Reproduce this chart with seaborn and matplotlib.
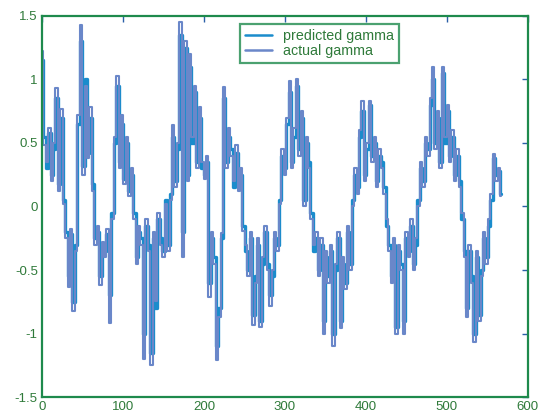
# plot.py
# predicted vs actual gamma, MATLAB-looking figure redone with seaborn

import numpy as np
import pandas as pd
import matplotlib
matplotlib.use("Agg")
import matplotlib.pyplot as plt
import seaborn as sns

# one value every 3 samples
sample_step = 3

actual_gamma = [
    1.22, 0.48, 0.35, 0.62, 0.2, 0.5, 0.93, 0.12, 0.77, 0.02,
    -0.25, -0.63, -0.18, -0.82, -0.35, 0.72, 1.43, 0.25, 0.95, 0.38,
    0.78, 0.12, -0.3, -0.15, -0.62, -0.28, -0.4, -0.18, -0.92, -0.1,
    0.55, 1.03, 0.3, 0.72, 0.18, 0.55, 0.08, 0.3, -0.1, -0.45,
    -0.15, -0.3, -1.2, -0.1, -0.35, -1.25, -0.2, -0.74, -0.05, -0.3,
    -0.4, 0.02, -0.35, 0.05, 0.64, 0.15, 0.5, 1.45, -0.4, 1.3,
    0.2, 1.2, 0.55, 0.95, 0.3, 0.78, 0.35, 0.22, 0.4, -0.71,
    -0.2, -0.45, -1.21, -0.87, -0.21, 0.94, 0.3, 0.62, 0.4, 0.2,
    0.48, 0.12, 0.3, -0.19, -0.3, -0.55, -0.2, -0.93, -0.6, -0.25,
    -0.95, -0.4, -0.15, -0.5, -0.78, -0.5, -0.2, -0.35, 0.02, 0.45,
    0.25, 0.7, 0.99, 0.3, 0.62, 1.0, 0.4, 0.75, 0.0, 0.55,
    0.3, -0.1, -0.3, -0.2, -0.55, -0.25, -1.0, -0.35, -0.6, -0.3,
    -1.1, -0.45, -0.2, -0.96, -0.4, -0.65, -0.15, -0.5, 0.0, 0.3,
    0.1, 0.6, 0.83, 0.2, 0.5, 0.83, 0.35, 0.55, 0.15, 0.45,
    0.3, 0.1, -0.1, -0.35, -0.6, -0.25, -1.0, -0.3, -0.5, -1.0,
    -0.2, -0.4, -0.1, -0.5, -0.25, 0.0, 0.35, 0.15, 0.55, 0.4,
    0.85, 1.1, 0.45, 0.75, 0.3, 1.1, 0.55, 0.8, 0.35, 0.6,
    0.2, 0.45, 0.15, -0.05, -0.4, -0.87, -0.3, -0.6, -1.07, -0.35,
    -0.9, -0.55, -0.2, -0.45, -0.1, 0.1, 0.41, 0.2, 0.3, 0.08,
]

predicted_gamma = [
    1.15, 0.55, 0.3, 0.58, 0.25, 0.45, 0.85, 0.18, 0.7, 0.05,
    -0.2, -0.55, -0.22, -0.75, -0.3, 0.65, 1.3, 0.32, 1.0, 0.42,
    0.7, 0.18, -0.25, -0.2, -0.55, -0.32, -0.35, -0.22, -0.7, -0.05,
    0.5, 0.95, 0.35, 0.65, 0.22, 0.5, 0.12, 0.25, -0.05, -0.4,
    -0.2, -0.25, -1.0, -0.15, -0.3, -1.15, -0.25, -0.8, -0.1, -0.25,
    -0.35, 0.05, -0.3, 0.1, 0.55, 0.2, 0.45, 1.35, -0.2, 1.25,
    0.25, 1.1, 0.5, 0.9, 0.35, 0.7, 0.3, 0.25, 0.35, -0.6,
    -0.25, -0.4, -1.1, -0.8, -0.25, 0.85, 0.35, 0.55, 0.45, 0.15,
    0.42, 0.18, 0.25, -0.15, -0.35, -0.5, -0.25, -0.85, -0.55, -0.3,
    -0.9, -0.45, -0.2, -0.45, -0.7, -0.55, -0.25, -0.3, 0.05, 0.4,
    0.3, 0.65, 0.9, 0.35, 0.55, 0.95, 0.45, 0.7, 0.05, 0.5,
    0.35, -0.05, -0.35, -0.25, -0.5, -0.3, -0.9, -0.4, -0.55, -0.35,
    -1.0, -0.5, -0.25, -0.9, -0.45, -0.6, -0.2, -0.45, 0.05, 0.25,
    0.15, 0.55, 0.75, 0.25, 0.45, 0.8, 0.4, 0.5, 0.2, 0.4,
    0.35, 0.15, -0.15, -0.3, -0.55, -0.3, -0.95, -0.35, -0.45, -0.9,
    -0.25, -0.35, -0.15, -0.45, -0.3, 0.05, 0.3, 0.2, 0.5, 0.45,
    0.8, 1.0, 0.5, 0.7, 0.35, 1.05, 0.5, 0.75, 0.4, 0.55,
    0.25, 0.4, 0.2, -0.1, -0.35, -0.8, -0.35, -0.55, -1.0, -0.4,
    -0.85, -0.5, -0.25, -0.4, -0.15, 0.05, 0.38, 0.25, 0.28, 0.1,
]

x_ticks = [0, 100, 200, 300, 400, 500, 600]
y_ticks = [-1.5, -1, -0.5, 0, 0.5, 1, 1.5]
y_tick_labels = ["-1.5", "-1", "-0.5", "0", "0.5", "1", "1.5"]

samples = np.arange(len(actual_gamma)) * sample_step
pred_df = pd.DataFrame({"sample": samples, "gamma": predicted_gamma})
act_df = pd.DataFrame({"sample": samples, "gamma": actual_gamma})

sns.set_style("white")
plt.rcParams["font.family"] = ["Liberation Sans", "DejaVu Sans"]

green = "#1e8a4c"
text_green = "#2f7a3a"

fig = plt.figure(figsize=(5.42, 4.18), dpi=100)
ax = fig.add_axes([0.0775, 0.050, 0.8965, 0.912])

# stairs look: the old figure is a held signal, so vertical strokes everywhere
# predicted drawn a bit wider underneath so its colour peeks out round the actual line
sns.lineplot(data=pred_df, x="sample", y="gamma", color="#1a8ccc",
             linewidth=2.4, drawstyle="steps-mid", label="predicted gamma", ax=ax)
sns.lineplot(data=act_df, x="sample", y="gamma", color="#6a87c9",
             linewidth=1.5, drawstyle="steps-mid", label="actual gamma", ax=ax)

ax.set_xlim(0, 600)
ax.set_ylim(-1.5, 1.5)
ax.set_xticks(x_ticks)
ax.set_yticks(y_ticks)
ax.set_yticklabels(y_tick_labels)
ax.set_xlabel("")
ax.set_ylabel("")

# matlab look: green box, inward ticks on every side
for side in ax.spines.values():
    side.set_color(green)
    side.set_linewidth(1.6)
ax.tick_params(direction="in", length=4, width=1, colors="#2a5fa8",
               labelcolor=text_green, labelsize=9.5,
               top=True, right=True, pad=3)

leg = ax.legend(loc="upper left", bbox_to_anchor=(0.407, 0.979),
                fontsize=10.3, frameon=True, fancybox=False,
                borderpad=0.35, handlelength=1.9, handletextpad=0.8,
                labelspacing=0.1, borderaxespad=0)
leg.get_frame().set_edgecolor(green)
leg.get_frame().set_linewidth(1.6)
for line in leg.get_lines():
    line.set_linewidth(1.8)
for t in leg.get_texts():
    t.set_color(text_green)

fig.savefig("out.png", dpi=100)
